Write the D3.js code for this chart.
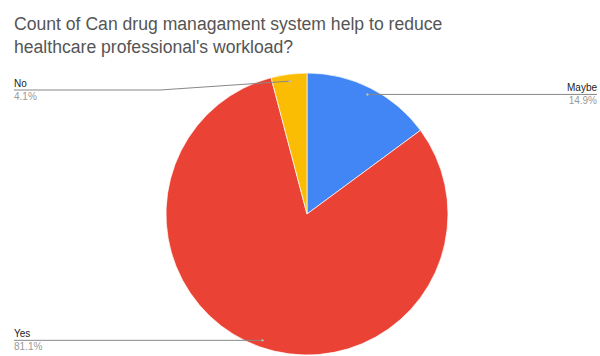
<!DOCTYPE html>
<html>
<head>
<meta charset="utf-8">
<script src="https://cdn.jsdelivr.net/npm/d3@7"></script>
<style>
  body { margin: 0; background: #fff; }
  text { font-family: "Liberation Sans", Arial, sans-serif; }
</style>
</head>
<body>
<script>
// answers and their share, in the order drawn (clockwise from 12 o'clock)
var answers = ["Maybe", "Yes", "No"];
var shares = [14.9, 81.1, 4.1];
var colors = ["#4285f4", "#ea4335", "#fbbc04"];
var titleLines = ["Count of Can drug managament system help to reduce",
                  "healthcare professional's workload?"];

var width = 600, height = 356;
var cx = 307, cy = 214, radius = 141;

var svg = d3.select("body").append("svg")
    .attr("width", width)
    .attr("height", height);

// title
svg.append("text")
    .attr("x", 14)
    .attr("y", 30)
    .style("font-size", "17.6px")
    .style("fill", "#555")
    .selectAll("tspan")
    .data(titleLines)
  .enter().append("tspan")
    .attr("x", 14)
    .attr("dy", function(d, i) { return i == 0 ? 0 : 23; })
    .text(function(d) { return d; });

var data = answers.map(function(a, i) { return {name: a, value: shares[i], color: colors[i]}; });

var pie = d3.pie().sort(null).value(function(d) { return d.value; });
var arc = d3.arc().innerRadius(0).outerRadius(radius);
var arcs = pie(data);

var g = svg.append("g").attr("transform", "translate(" + cx + "," + cy + ")");

g.selectAll("path")
    .data(arcs)
  .enter().append("path")
    .attr("d", arc)
    .attr("fill", function(d) { return d.data.color; })
    .attr("stroke", "#fff")
    .attr("stroke-width", 0.7);

// leader lines + labels
var inner = d3.arc().innerRadius(radius * 0.95).outerRadius(radius * 0.95);

arcs.forEach(function(d) {
  var p = inner.centroid(d);
  var px = cx + p[0], py = cy + p[1];
  var right = p[0] > 0;
  var lineY, pts;
  if (d.data.name == "No") {
    lineY = 90;
    pts = [[14, lineY], [160, lineY], [px, py]];
  } else {
    lineY = py;
    pts = right ? [[px, py], [597, lineY]] : [[14, lineY], [px, py]];
  }
  svg.append("path")
      .attr("d", d3.line()(pts))
      .attr("fill", "none")
      .attr("stroke", "#888")
      .attr("stroke-width", 1);
  svg.append("circle")
      .attr("cx", px).attr("cy", py).attr("r", 1.2)
      .attr("fill", "#bbb");

  var tx = right ? 597 : 14;
  var anchor = right ? "end" : "start";
  svg.append("text")
      .attr("x", tx).attr("y", lineY - 3)
      .attr("text-anchor", anchor)
      .style("font-size", "10px")
      .style("fill", "#222")
      .text(d.data.name);
  svg.append("text")
      .attr("x", tx).attr("y", lineY + 10)
      .attr("text-anchor", anchor)
      .style("font-size", "10px")
      .style("fill", "#999")
      .text(d.data.value.toFixed(1) + "%");
});
</script>
</body>
</html>
